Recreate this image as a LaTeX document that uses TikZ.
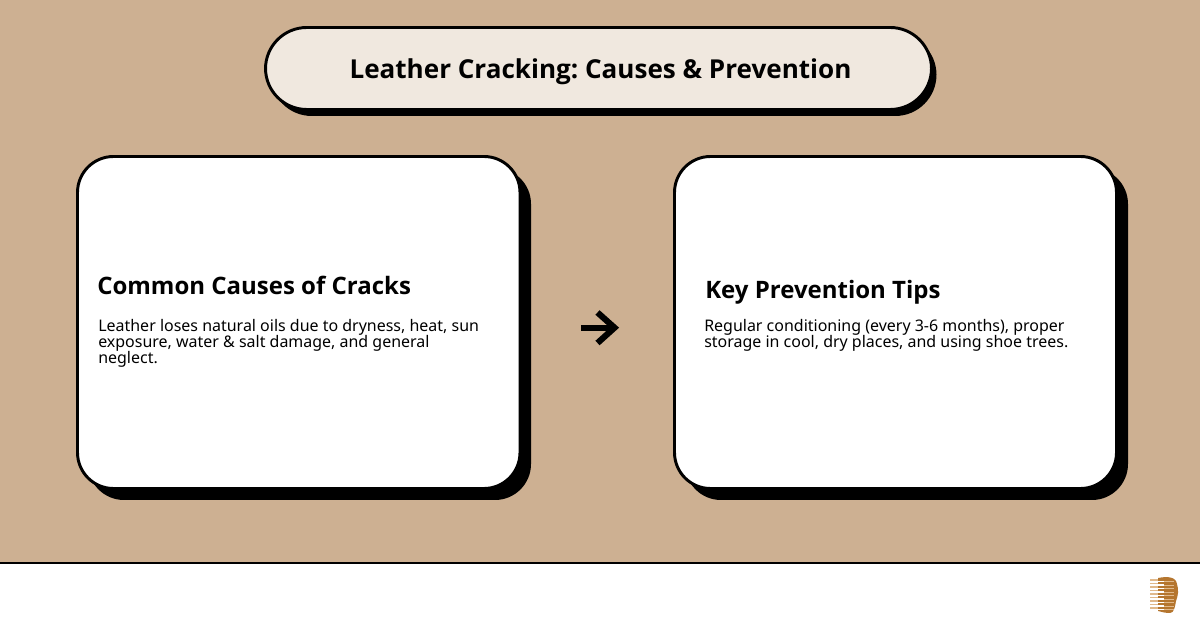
\documentclass[tikz,border=0pt]{standalone}
\usepackage{fontspec}
\setmainfont{Noto Sans}
\newfontfamily\headfont{Open Sans}
\definecolor{tanbg}{HTML}{CDB092}
\definecolor{cream}{HTML}{F0E8DF}
\definecolor{logob}{HTML}{B5762F}
\definecolor{logol}{HTML}{E6CFB4}
\definecolor{logom}{HTML}{E0B98C}
\tikzset{
  x=0.75pt,y=-0.75pt,
  titlebox/.style={draw=black,line width=2.2pt,fill=cream,rounded corners=31pt},
  titleshadow/.style={fill=black,rounded corners=31pt},
  cardbox/.style={draw=black,line width=2.2pt,fill=white,rounded corners=27pt},
  cardshadow/.style={fill=black,rounded corners=27pt},
  heading/.style={anchor=base west,inner sep=0pt,font=\fontsize{18pt}{20pt}\selectfont\headfont\bfseries\frenchspacing},
  bodytext/.style={anchor=north west,inner sep=0pt,align=left,font=\fontsize{11.98pt}{12.2pt}\selectfont\frenchspacing},
  arrowline/.style={line width=4.6pt,draw=black}
}
\begin{document}
\begin{tikzpicture}
\useasboundingbox (0,0) rectangle (1200,630);
\fill[white] (0,0) rectangle (1200,630);
\fill[tanbg] (0,0) rectangle (1200,562.5);
\draw[black,line width=1.5pt] (0,563) -- (1200,563);
% title
\path[titleshadow] (270.5,33.5) rectangle (936.5,116);
\path[titlebox] (265.5,27.5) rectangle (931.5,109.5);
\node[inner sep=0pt,anchor=base,font=\fontsize{19.55pt}{22pt}\selectfont\headfont\bfseries\frenchspacing] (title) at (600.5,79) {Leather Cracking: Causes \& Prevention};
% cards
\path[cardshadow] (88,168) rectangle (531,500);
\path[cardbox] (77.5,156.5) rectangle (520,488.5);
\path[cardshadow] (685,168) rectangle (1128,500);
\path[cardbox] (674.5,156.5) rectangle (1116.5,488.5);
\node[heading] (h1) at (97,295) {Common Causes of Cracks};
\node[bodytext] (b1) at (98,319) {Leather loses natural oils due to dryness, heat, sun\\exposure, water \& salt damage, and general\\neglect.};
\node[heading] (h2) at (705,299) {Key Prevention Tips};
\node[bodytext] (b2) at (704,319) {Regular conditioning (every 3-6 months), proper\\storage in cool, dry places, and using shoe trees.};
% arrow
\coordinate (as) at (581,327.7);
\coordinate (at) at (613,327.7);
\coordinate (au) at (597.5,312.5);
\coordinate (ad) at (597.5,343);
\draw[arrowline] (as) -- (at);
\draw[arrowline,line join=miter] (au) -- (614.5,327.7) -- (ad);
% logo
\fill[logob] (1158,578) .. controls (1168,576) and (1176,577) .. (1177,584)
  .. controls (1179,590) and (1178,596) .. (1176,601)
  .. controls (1175,607) and (1174,613) .. (1170,613)
  .. controls (1165,613) and (1162,612) .. (1158,611) -- cycle;
\foreach \yy in {580,583.5,587,590.5,594,597.5,601,604.5,608}{
  \draw[white,line width=1.2pt] (1150,\yy+1.7) -- (1164,\yy+1.7);
  \draw[logom,line width=0.6pt] (1164,\yy+1.7) -- (1174,\yy+1.7);
  \draw[logom,line width=1.1pt] (1150,\yy) -- (1158,\yy);
}
\end{tikzpicture}
\end{document}
